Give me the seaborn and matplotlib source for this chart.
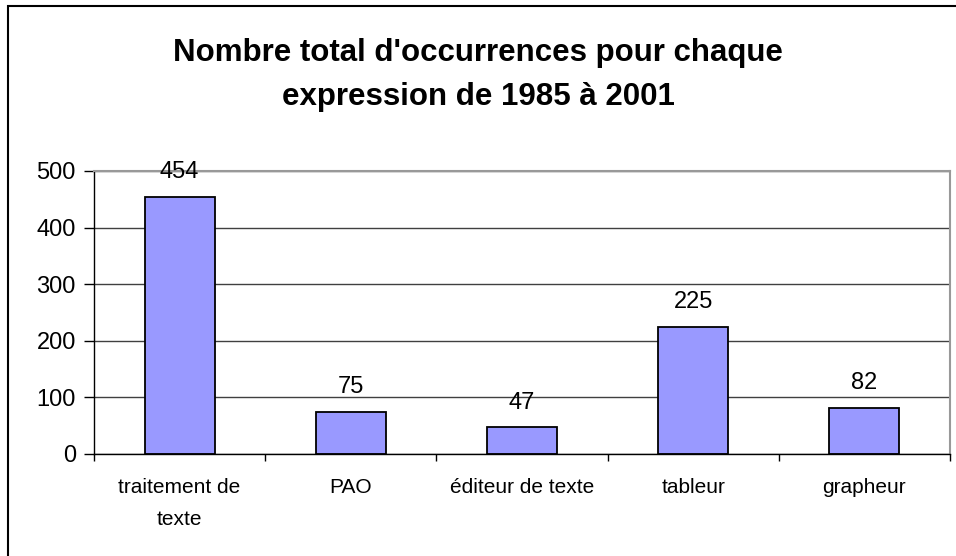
import seaborn as sns
import matplotlib.pyplot as plt
import matplotlib.patches as mpatches
import pandas as pd

categories = ["traitement de\ntexte", "PAO", "éditeur de texte", "tableur", "grapheur"]
occurrences = [454, 75, 47, 225, 82]
y_ticks = [0, 100, 200, 300, 400, 500]
title = "Nombre total d'occurrences pour chaque\nexpression de 1985 à 2001"

df = pd.DataFrame({"expression": categories, "total": occurrences})

sns.set_style("white")
plt.rcParams["font.family"] = ["Liberation Sans", "DejaVu Sans"]
plt.rcParams["text.color"] = "black"
plt.rcParams["xtick.color"] = "black"
plt.rcParams["ytick.color"] = "black"

fig = plt.figure(figsize=(9.56, 5.56), dpi=100)
ax = fig.add_axes([94 / 956, 1 - 454 / 556, (950 - 94) / 956, (454 - 171) / 556])

sns.barplot(
    data=df,
    x="expression",
    y="total",
    color="#9999FF",
    edgecolor="black",
    linewidth=1.3,
    width=0.41,
    saturation=1,
    ax=ax,
)

# étiquettes de données au-dessus des barres
for cont in ax.containers:
    ax.bar_label(cont, padding=10, fontsize=17, color="black")

ax.set_ylim(0, 500)
ax.set_xlim(-0.5, len(categories) - 0.5)
ax.set_yticks(y_ticks)
ax.set_yticklabels([str(t) for t in y_ticks], fontsize=17)
ax.yaxis.grid(True, color="#404040", linewidth=1)
ax.set_axisbelow(True)

# ticks de l'axe X aux limites des catégories
ax.set_xticks(range(len(categories)))
ax.set_xticklabels(categories, fontsize=15, linespacing=1.9)
ax.set_xticks([i - 0.5 for i in range(len(categories) + 1)], minor=True)
ax.tick_params(axis="x", which="major", length=0, pad=17)
ax.tick_params(axis="x", which="minor", length=5, width=1, color="black", direction="out", bottom=True)
ax.tick_params(axis="y", length=7, width=1, color="black", direction="out", left=True, pad=6)

ax.set_xlabel("")
ax.set_ylabel("")

for side in ["top", "right"]:
    ax.spines[side].set_color("#999999")
    ax.spines[side].set_linewidth(1.5)
for side in ["left", "bottom"]:
    ax.spines[side].set_color("black")
    ax.spines[side].set_linewidth(1)

fig.text(0.5, 1 - 75 / 556, title, ha="center", va="center", color="black",
         fontsize=22.5, fontweight="bold", linespacing=1.62)

# cadre du graphique (seuls les bords haut et gauche sont visibles)
fig.patches.append(mpatches.Rectangle((8 / 956, -0.1), 1.2, 1 - 6 / 556 + 0.1,
                                      transform=fig.transFigure, fill=False,
                                      edgecolor="black", linewidth=1.5))

fig.savefig("out.png", dpi=100)
